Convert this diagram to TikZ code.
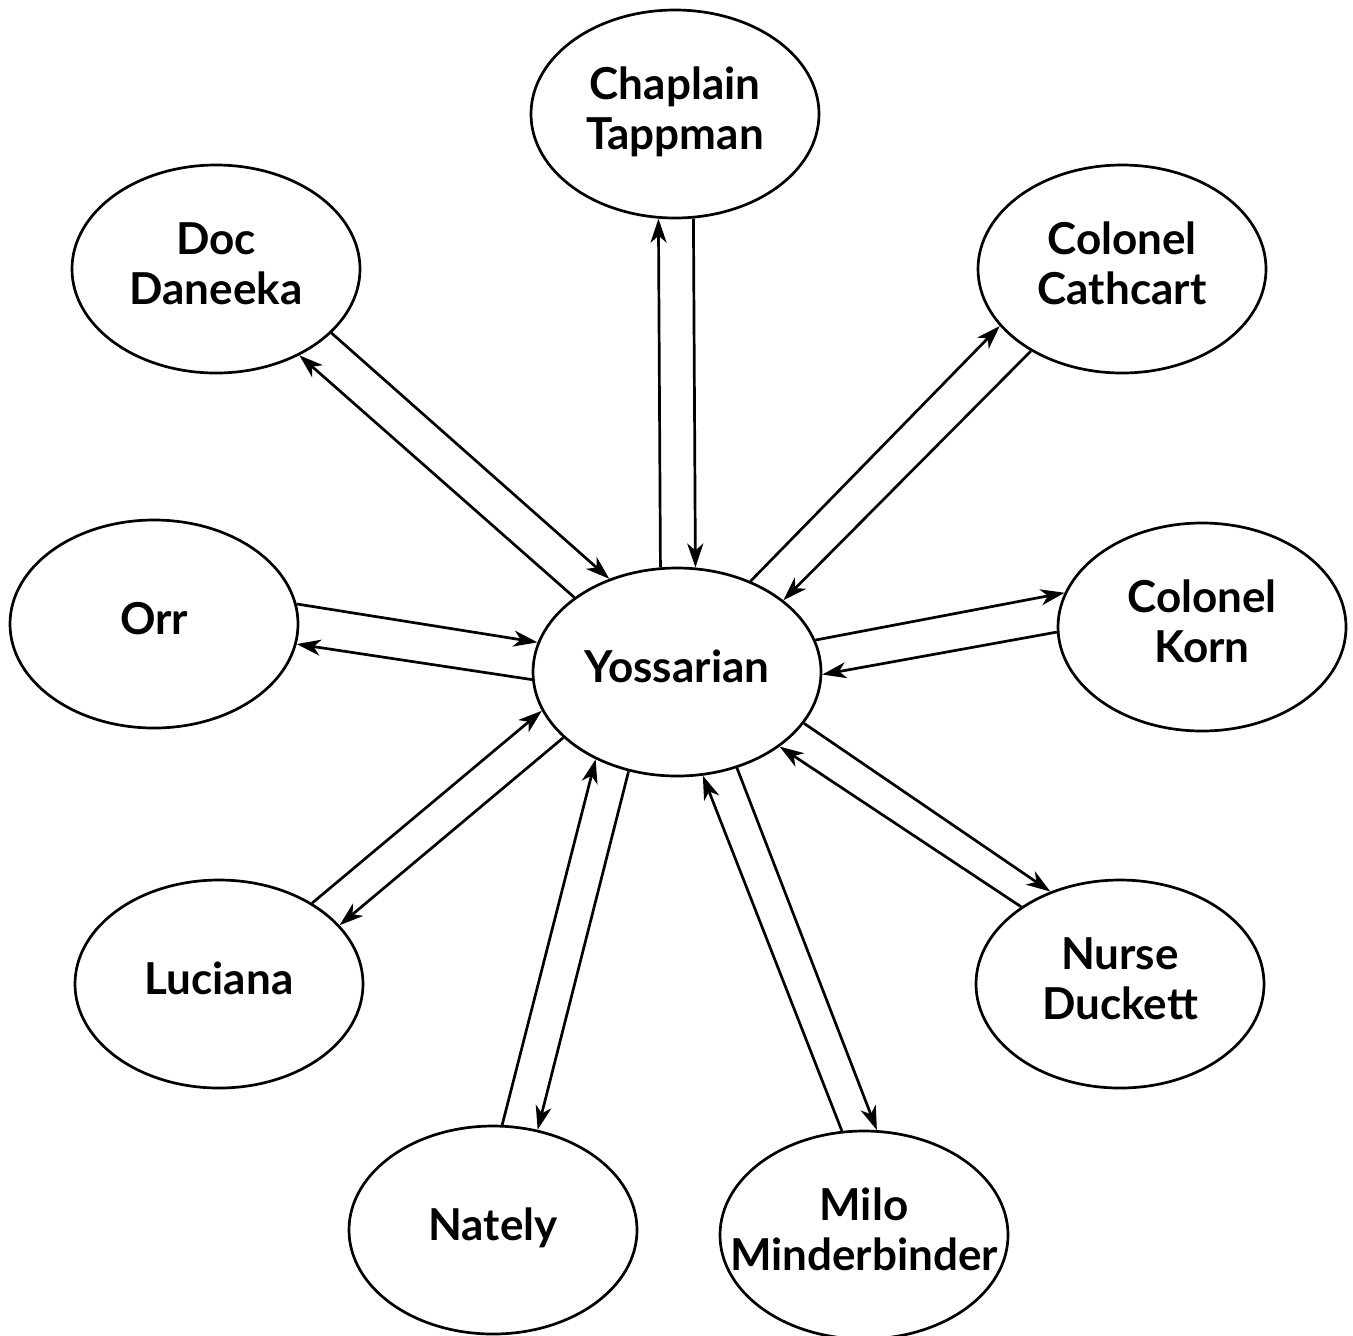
\documentclass[tikz,border=0pt]{standalone}
\usepackage{fontspec}
\setmainfont{Lato}
\usetikzlibrary{arrows.meta,shapes.geometric}
\tikzset{
  relarr/.style={-{Stealth[length=12pt,width=8pt,inset=3.5pt]}, line width=1.35pt},
  charnode/.style={draw, ellipse, line width=1.35pt, minimum width=144pt, minimum height=104pt, inner sep=0pt,
    font=\fontsize{22pt}{25pt}\selectfont\bfseries},
}
\newcommand{\charname}[1]{\makebox[0pt]{\begin{tabular}{@{}c@{}}#1\end{tabular}}}

\begin{document}
\begin{tikzpicture}[x=0.5pt, y=-0.5pt]
  \useasboundingbox (0,0) rectangle (1353,1335);
  % centre and the others round it
  \node[charnode] (yos)  at (677,672)  {\charname{Yossarian}};
  \node[charnode] (chap) at (675,114)  {\charname{Chaplain\\Tappman}};
  \node[charnode] (doc)  at (216,269)  {\charname{Doc\\Daneeka}};
  \node[charnode] (cath) at (1122,269) {\charname{Colonel\\Cathcart}};
  \node[charnode] (orr)  at (154,624)  {\charname{Orr}};
  \node[charnode] (korn) at (1202,627) {\charname{Colonel\\Korn}};
  \node[charnode] (luc)  at (219,984)  {\charname{Luciana}};
  \node[charnode] (duck) at (1120,984) {\charname{Nurse\\Duckett}};
  \node[charnode] (nat)  at (493,1230) {\charname{Nately}};
  \node[charnode] (milo) at (864,1235) {\charname{Milo\\Minderbinder}};
  % one arrow out, one arrow back
  \foreach \n/\a/\b/\c/\d in {chap/99.3/261.6/280.9/80.2, doc/144.6/314.3/331.7/126.6,
      cath/51.6/205.8/222.7/34.4, orr/183.2/352.5/8.1/168.8, korn/13.4/166.6/182/359.6,
      luc/210.8/26/41.4/196.3, duck/338.3/127.3/142.8/324.7, nat/244.8/66.2/85.1/227.7,
      milo/302.4/83.9/102.3/284.2}{
    \draw[relarr] (yos.\a) -- (\n.\b);
    \draw[relarr] (\n.\c) -- (yos.\d);
  }
\end{tikzpicture}
\end{document}
